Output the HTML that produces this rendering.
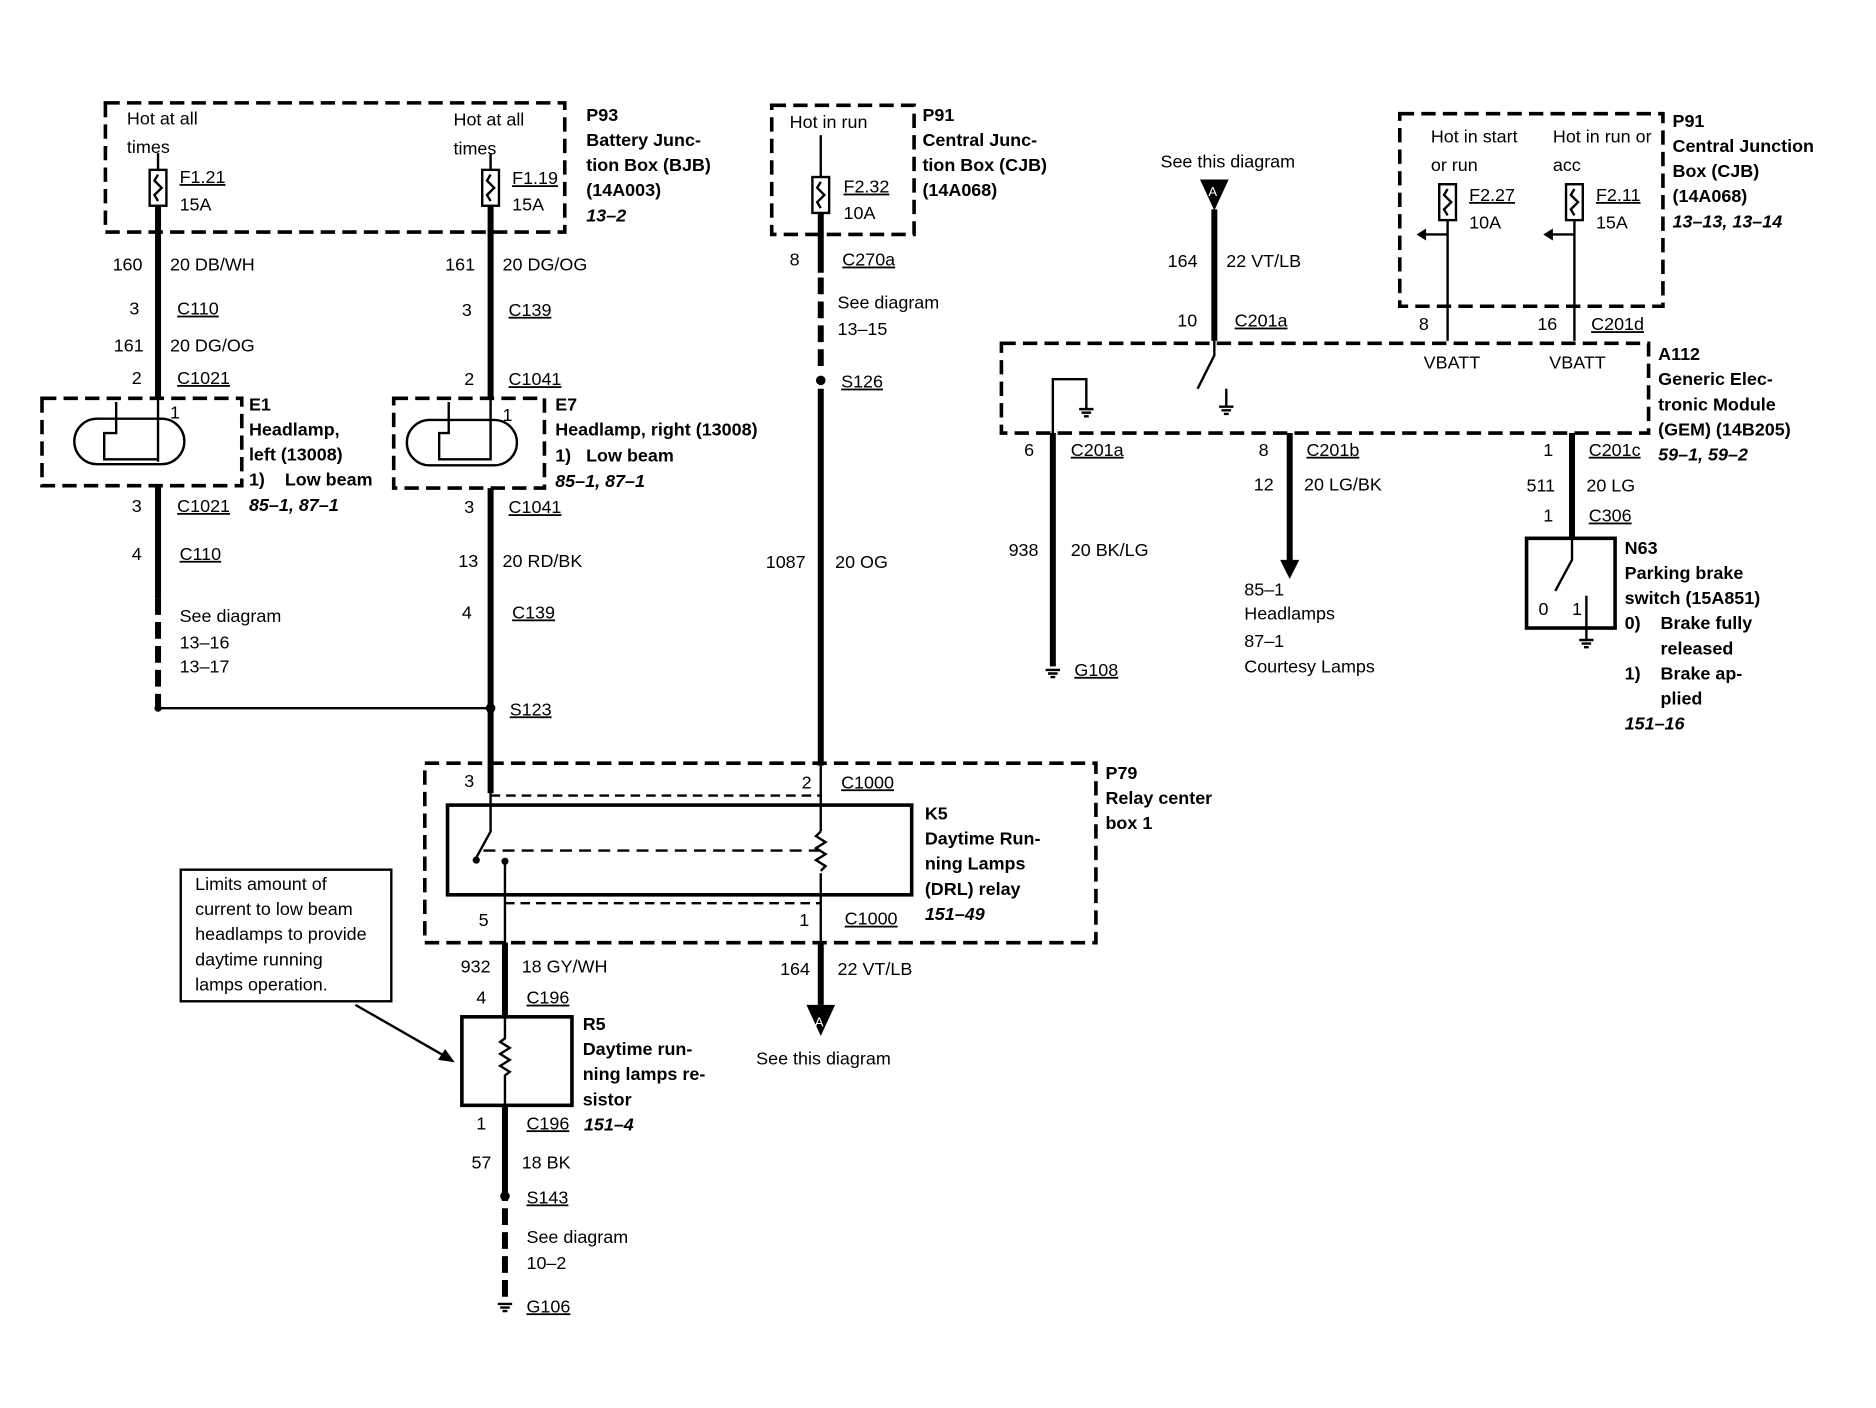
<!DOCTYPE html>
<html><head><meta charset="utf-8"><style>
html,body{margin:0;padding:0;background:#fff;}
svg{display:block}
text{font-family:"Liberation Sans",sans-serif;font-size:15px;fill:#000;white-space:pre}
.b{font-weight:bold}
.i{font-style:italic;font-weight:bold}
.u{text-decoration:underline}
.w{stroke:#000;stroke-width:5;fill:none}
.t{stroke:#000;stroke-width:2;fill:none}
.d{stroke:#000;stroke-width:3;fill:none;stroke-dasharray:12,6}
.dw{stroke:#000;stroke-width:5;fill:none;stroke-dasharray:14,6}
</style></head><body>
<svg width="1876" height="1408" viewBox="0 0 1568 1177" xmlns="http://www.w3.org/2000/svg">
<defs>
<g id="fuse"><rect x="-7" y="0" width="14" height="30" class="t"/><path d="M0,4 l-3,5 l6,6 l-6,6 l3,5" class="t"/></g>
<g id="gnd"><path d="M-6,0 h12 M-4,3 h8 M-2,6 h4" class="t"/></g>
</defs>

<rect x="88" y="86" width="384" height="108" class="d"/>
<text x="106" y="104">Hot at all</text><text x="106" y="128">times</text>
<use href="#fuse" x="132" y="142"/><path d="M132,128 v14" class="t"/>
<text x="150" y="153" class="u">F1.21</text><text x="150" y="176">15A</text>
<text x="379" y="105">Hot at all</text><text x="379" y="129">times</text>
<use href="#fuse" x="410" y="142"/><path d="M410,128 v14" class="t"/>
<text x="428" y="154" class="u">F1.19</text><text x="428" y="176">15A</text>
<g class="b"><text x="490" y="101">P93</text><text x="490" y="122">Battery Junc-</text><text x="490" y="143">tion Box (BJB)</text><text x="490" y="164">(14A003)</text></g>
<text x="490" y="185" class="i">13–2</text>

<path d="M132,172 v160 M132,406 v94" class="w"/>
<path d="M132,500 v90" class="dw"/>
<path d="M132,592 H410" class="t"/><circle cx="132" cy="592" r="3"/>
<text x="94" y="226">160</text><text x="142" y="226">20 DB/WH</text>
<text x="108" y="263">3</text><text x="148" y="263" class="u">C110</text>
<text x="95" y="294">161</text><text x="142" y="294">20 DG/OG</text>
<text x="110" y="321">2</text><text x="148" y="321" class="u">C1021</text>
<rect x="35" y="333" width="167" height="73" class="d"/>
<rect x="62" y="350" width="92" height="38" rx="19" class="t"/>
<path d="M97,336 v26 h-10 v22 h45 v-52 M132,336 v50" class="t"/>
<text x="142" y="350">1</text>
<g class="b"><text x="208" y="343">E1</text><text x="208" y="364">Headlamp,</text><text x="208" y="385">left (13008)</text><text x="208" y="406">1)    Low beam</text></g>
<text x="208" y="427" class="i">85–1, 87–1</text>
<text x="110" y="428">3</text><text x="148" y="428" class="u">C1021</text>
<text x="110" y="468">4</text><text x="150" y="468" class="u">C110</text>
<text x="150" y="520">See diagram</text><text x="150" y="542">13–16</text><text x="150" y="562">13–17</text>

<path d="M410,172 v160 M410,408 v255" class="w"/>
<text x="372" y="226">161</text><text x="420" y="226">20 DG/OG</text>
<text x="386" y="264">3</text><text x="425" y="264" class="u">C139</text>
<text x="388" y="322">2</text><text x="425" y="322" class="u">C1041</text>
<rect x="329" y="333" width="126" height="75" class="d"/>
<rect x="340" y="351" width="92" height="38" rx="19" class="t"/>
<path d="M375,336 v26 h-8 v22 h43 v-50" class="t"/>
<text x="420" y="352">1</text>
<g class="b"><text x="464" y="343">E7</text><text x="464" y="364">Headlamp, right (13008)</text><text x="464" y="386">1)   Low beam</text></g>
<text x="464" y="407" class="i">85–1, 87–1</text>
<text x="388" y="429">3</text><text x="425" y="429" class="u">C1041</text>
<text x="383" y="474">13</text><text x="420" y="474">20 RD/BK</text>
<text x="386" y="517">4</text><text x="428" y="517" class="u">C139</text>
<circle cx="410" cy="592" r="4"/><text x="426" y="598" class="u">S123</text>

<rect x="645" y="88" width="119" height="108" class="d"/>
<text x="660" y="107">Hot in run</text>
<use href="#fuse" x="686" y="148"/><path d="M686,113 v35" class="t"/>
<text x="705" y="161" class="u">F2.32</text><text x="705" y="183">10A</text>
<g class="b"><text x="771" y="101">P91</text><text x="771" y="122">Central Junc-</text><text x="771" y="143">tion Box (CJB)</text><text x="771" y="164">(14A068)</text></g>
<path d="M686,178 v50 M686,325 v315" class="w"/>
<path d="M686,232 v80" class="dw"/>
<text x="660" y="222">8</text><text x="704" y="222" class="u">C270a</text>
<text x="700" y="258">See diagram</text><text x="700" y="280">13–15</text>
<circle cx="686" cy="318" r="4"/><text x="703" y="324" class="u">S126</text>
<text x="640" y="475">1087</text><text x="698" y="475">20 OG</text>
<text x="670" y="659">2</text><text x="703" y="659" class="u">C1000</text>

<rect x="355" y="638" width="561" height="150" class="d"/>
<rect x="374" y="673" width="388" height="75" class="t" style="stroke-width:3"/>
<path d="M410,640 v55 l-12,22 M686,640 v55 M686,730 v110 M422,720 v120" class="t"/>
<path d="M410,665 H686 M422,755 H686" class="t" stroke-dasharray="8,5"/>
<path d="M686,695 l-4,4 l8,5 l-8,5 l8,5 l-8,5 l8,5 l-4,4" class="t"/>
<path d="M404,711 H686" class="t" stroke-dasharray="10,6"/>
<circle cx="398" cy="719" r="3"/><circle cx="422" cy="720" r="3"/>
<text x="388" y="658">3</text>
<g class="b"><text x="924" y="651">P79</text><text x="924" y="672">Relay center</text><text x="924" y="693">box 1</text>
<text x="773" y="685">K5</text><text x="773" y="706">Daytime Run-</text><text x="773" y="727">ning Lamps</text><text x="773" y="748">(DRL) relay</text></g>
<text x="773" y="769" class="i">151–49</text>
<text x="400" y="774">5</text><text x="668" y="774">1</text><text x="706" y="773" class="u">C1000</text>

<path d="M422,788 v62 M422,924 v80" class="w"/>
<path d="M686,788 v52" class="w"/>
<path d="M674,840 h24 l-12,26 z"/><text x="681" y="858" style="fill:#fff;font-size:11px">A</text>
<text x="385" y="813">932</text><text x="436" y="813">18 GY/WH</text>
<text x="398" y="839">4</text><text x="440" y="839" class="u">C196</text>
<text x="652" y="815">164</text><text x="700" y="815">22 VT/LB</text>
<text x="632" y="890">See this diagram</text>
<rect x="386" y="850" width="92" height="74" class="t" style="stroke-width:3"/>
<path d="M422,850 v18 l-4,3 l8,5 l-8,5 l8,5 l-8,5 l8,5 l-4,3 v25" class="t"/>
<g class="b"><text x="487" y="861">R5</text><text x="487" y="882">Daytime run-</text><text x="487" y="903">ning lamps re-</text><text x="487" y="924">sistor</text></g>
<text x="488" y="945" class="i">151–4</text>
<text x="398" y="944">1</text><text x="440" y="944" class="u">C196</text>
<text x="394" y="977">57</text><text x="436" y="977">18 BK</text>
<circle cx="422" cy="1000" r="4"/><text x="440" y="1006" class="u">S143</text>
<path d="M422,1010 v75" class="dw"/>
<text x="440" y="1039">See diagram</text><text x="440" y="1061">10–2</text>
<use href="#gnd" x="422" y="1090"/><text x="440" y="1097" class="u">G106</text>

<rect x="151" y="727" width="176" height="110" class="t"/>
<text x="163" y="744">Limits amount of</text><text x="163" y="765">current to low beam</text><text x="163" y="786">headlamps to provide</text><text x="163" y="807">daytime running</text><text x="163" y="828">lamps operation.</text>
<path d="M297,840 L372,883" class="t"/><path d="M380,888 l-14,-2 l6,-9 z"/>

<text x="970" y="140">See this diagram</text>
<path d="M1003,150 h24 l-12,26 z"/><text x="1010" y="164" style="fill:#fff;font-size:11px">A</text>
<path d="M1015,175 v110" class="w"/>
<text x="976" y="223">164</text><text x="1025" y="223">22 VT/LB</text>
<text x="984" y="273">10</text><text x="1032" y="273" class="u">C201a</text>
<rect x="837" y="287" width="541" height="75" class="d"/>
<path d="M1015,285 v12 l-14,28 M1025,325 v14 M880,370 V317 H908 v25" class="t"/>
<use href="#gnd" x="908" y="342"/><use href="#gnd" x="1025" y="340"/>
<text x="1190" y="308">VBATT</text><text x="1295" y="308">VBATT</text>
<g class="b"><text x="1386" y="301">A112</text><text x="1386" y="322">Generic Elec-</text><text x="1386" y="343">tronic Module</text><text x="1386" y="364">(GEM) (14B205)</text></g>
<text x="1386" y="385" class="i">59–1, 59–2</text>

<rect x="1170" y="95" width="220" height="161" class="d"/>
<text x="1196" y="119">Hot in start</text><text x="1196" y="143">or run</text>
<text x="1298" y="119">Hot in run or</text><text x="1298" y="143">acc</text>
<use href="#fuse" x="1210" y="154"/><use href="#fuse" x="1316" y="154"/>
<path d="M1210,184 v101 M1316,184 v101 M1210,196 h-20 M1316,196 h-20" class="t"/>
<path d="M1184,196 l8,-5 v10 z M1290,196 l8,-5 v10 z"/>
<text x="1228" y="168" class="u">F2.27</text><text x="1228" y="191">10A</text>
<text x="1334" y="168" class="u">F2.11</text><text x="1334" y="191">15A</text>
<text x="1186" y="276">8</text><text x="1285" y="276">16</text><text x="1330" y="276" class="u">C201d</text>
<g class="b"><text x="1398" y="106">P91</text><text x="1398" y="127">Central Junction</text><text x="1398" y="148">Box (CJB)</text><text x="1398" y="169">(14A068)</text></g>
<text x="1398" y="190" class="i">13–13, 13–14</text>

<path d="M880,362 v195 M1078,362 v108 M1314,362 v88" class="w"/>
<path d="M1070,468 h16 l-8,16 z"/>
<text x="856" y="381">6</text><text x="895" y="381" class="u">C201a</text>
<text x="843" y="465">938</text><text x="895" y="465">20 BK/LG</text>
<use href="#gnd" x="880" y="560"/><text x="898" y="565" class="u">G108</text>
<text x="1052" y="381">8</text><text x="1092" y="381" class="u">C201b</text>
<text x="1048" y="410">12</text><text x="1090" y="410">20 LG/BK</text>
<text x="1040" y="498">85–1</text><text x="1040" y="518">Headlamps</text><text x="1040" y="541">87–1</text><text x="1040" y="562">Courtesy Lamps</text>
<text x="1290" y="381">1</text><text x="1328" y="381" class="u">C201c</text>
<text x="1276" y="411">511</text><text x="1326" y="411">20 LG</text>
<text x="1290" y="436">1</text><text x="1328" y="436" class="u">C306</text>
<rect x="1276" y="450" width="74" height="75" class="t" style="stroke-width:3"/>
<path d="M1314,450 v18 l-14,26 M1326,498 v37" class="t"/>
<use href="#gnd" x="1326" y="535"/>
<text x="1286" y="514">0</text><text x="1314" y="514">1</text>
<g class="b"><text x="1358" y="463">N63</text><text x="1358" y="484">Parking brake</text><text x="1358" y="505">switch (15A851)</text><text x="1358" y="526">0)    Brake fully</text><text x="1388" y="547">released</text><text x="1358" y="568">1)    Brake ap-</text><text x="1388" y="589">plied</text></g>
<text x="1358" y="610" class="i">151–16</text>
</svg>
</body></html>
